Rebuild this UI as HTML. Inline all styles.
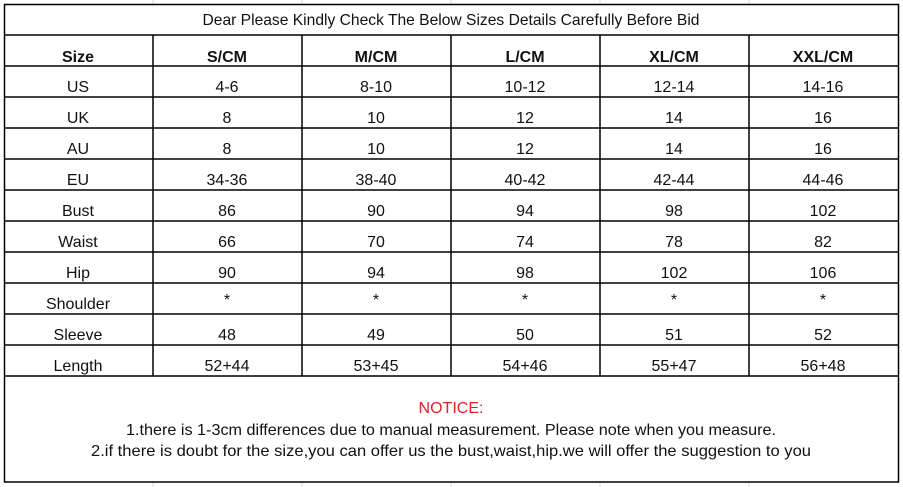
<!DOCTYPE html>
<html><head><meta charset="utf-8"><style>
html,body{margin:0;padding:0;background:#fff;width:903px;height:487px;overflow:hidden}
svg text{font-family:"Liberation Sans","DejaVu Sans",sans-serif;font-size:16px;fill:#111}
</style></head><body>
<svg width="903" height="487" xmlns="http://www.w3.org/2000/svg">
<g stroke="#d8d8d8" stroke-width="1">
<line x1="153" y1="482" x2="153" y2="487"/><line x1="302" y1="482" x2="302" y2="487"/><line x1="451" y1="482" x2="451" y2="487"/><line x1="600" y1="482" x2="600" y2="487"/><line x1="749" y1="482" x2="749" y2="487"/>
<line x1="153" y1="0" x2="153" y2="4"/><line x1="302" y1="0" x2="302" y2="4"/><line x1="451" y1="0" x2="451" y2="4"/><line x1="600" y1="0" x2="600" y2="4"/><line x1="749" y1="0" x2="749" y2="4"/>
</g>
<g stroke="#000" stroke-width="1.5" fill="none">
<rect x="4.5" y="4.5" width="894" height="477.5"/>
<line x1="4" y1="35" x2="899" y2="35"/>
<line x1="4" y1="66" x2="899" y2="66"/><line x1="4" y1="97" x2="899" y2="97"/><line x1="4" y1="128" x2="899" y2="128"/><line x1="4" y1="159" x2="899" y2="159"/><line x1="4" y1="190" x2="899" y2="190"/><line x1="4" y1="221" x2="899" y2="221"/><line x1="4" y1="252" x2="899" y2="252"/><line x1="4" y1="283" x2="899" y2="283"/><line x1="4" y1="314" x2="899" y2="314"/><line x1="4" y1="345" x2="899" y2="345"/><line x1="4" y1="376" x2="899" y2="376"/>
<line x1="153" y1="35" x2="153" y2="376"/><line x1="302" y1="35" x2="302" y2="376"/><line x1="451" y1="35" x2="451" y2="376"/><line x1="600" y1="35" x2="600" y2="376"/><line x1="749" y1="35" x2="749" y2="376"/>
</g>
<text x="451" y="25" text-anchor="middle" textLength="497" lengthAdjust="spacingAndGlyphs">Dear Please Kindly Check The Below Sizes Details Carefully Before Bid</text>
<g text-anchor="middle">
<text x="78" y="62" style="font-weight:bold">Size</text><text x="227" y="62" style="font-weight:bold">S/CM</text><text x="376" y="62" style="font-weight:bold">M/CM</text><text x="525" y="62" style="font-weight:bold">L/CM</text><text x="674" y="62" style="font-weight:bold">XL/CM</text><text x="823" y="62" style="font-weight:bold">XXL/CM</text>
</g>
<g text-anchor="middle">
<text x="78" y="92">US</text><text x="227" y="92">4-6</text><text x="376" y="92">8-10</text><text x="525" y="92">10-12</text><text x="674" y="92">12-14</text><text x="823" y="92">14-16</text>
<text x="78" y="123">UK</text><text x="227" y="123">8</text><text x="376" y="123">10</text><text x="525" y="123">12</text><text x="674" y="123">14</text><text x="823" y="123">16</text>
<text x="78" y="154">AU</text><text x="227" y="154">8</text><text x="376" y="154">10</text><text x="525" y="154">12</text><text x="674" y="154">14</text><text x="823" y="154">16</text>
<text x="78" y="185">EU</text><text x="227" y="185">34-36</text><text x="376" y="185">38-40</text><text x="525" y="185">40-42</text><text x="674" y="185">42-44</text><text x="823" y="185">44-46</text>
<text x="78" y="216">Bust</text><text x="227" y="216">86</text><text x="376" y="216">90</text><text x="525" y="216">94</text><text x="674" y="216">98</text><text x="823" y="216">102</text>
<text x="78" y="247">Waist</text><text x="227" y="247">66</text><text x="376" y="247">70</text><text x="525" y="247">74</text><text x="674" y="247">78</text><text x="823" y="247">82</text>
<text x="78" y="278">Hip</text><text x="227" y="278">90</text><text x="376" y="278">94</text><text x="525" y="278">98</text><text x="674" y="278">102</text><text x="823" y="278">106</text>
<text x="78" y="309">Shoulder</text><text x="227" y="305">*</text><text x="376" y="305">*</text><text x="525" y="305">*</text><text x="674" y="305">*</text><text x="823" y="305">*</text>
<text x="78" y="340">Sleeve</text><text x="227" y="340">48</text><text x="376" y="340">49</text><text x="525" y="340">50</text><text x="674" y="340">51</text><text x="823" y="340">52</text>
<text x="78" y="371">Length</text><text x="227" y="371">52+44</text><text x="376" y="371">53+45</text><text x="525" y="371">54+46</text><text x="674" y="371">55+47</text><text x="823" y="371">56+48</text>
<text x="451" y="413" style="fill:#e8202a">NOTICE:</text>
<text x="451" y="435" textLength="650" lengthAdjust="spacingAndGlyphs">1.there is 1-3cm differences due to manual measurement. Please note when you measure.</text>
<text x="451" y="456" textLength="720" lengthAdjust="spacingAndGlyphs">2.if there is doubt for the size,you can offer us the bust,waist,hip.we will offer the suggestion to you</text>
</g>
</svg>
</body></html>
